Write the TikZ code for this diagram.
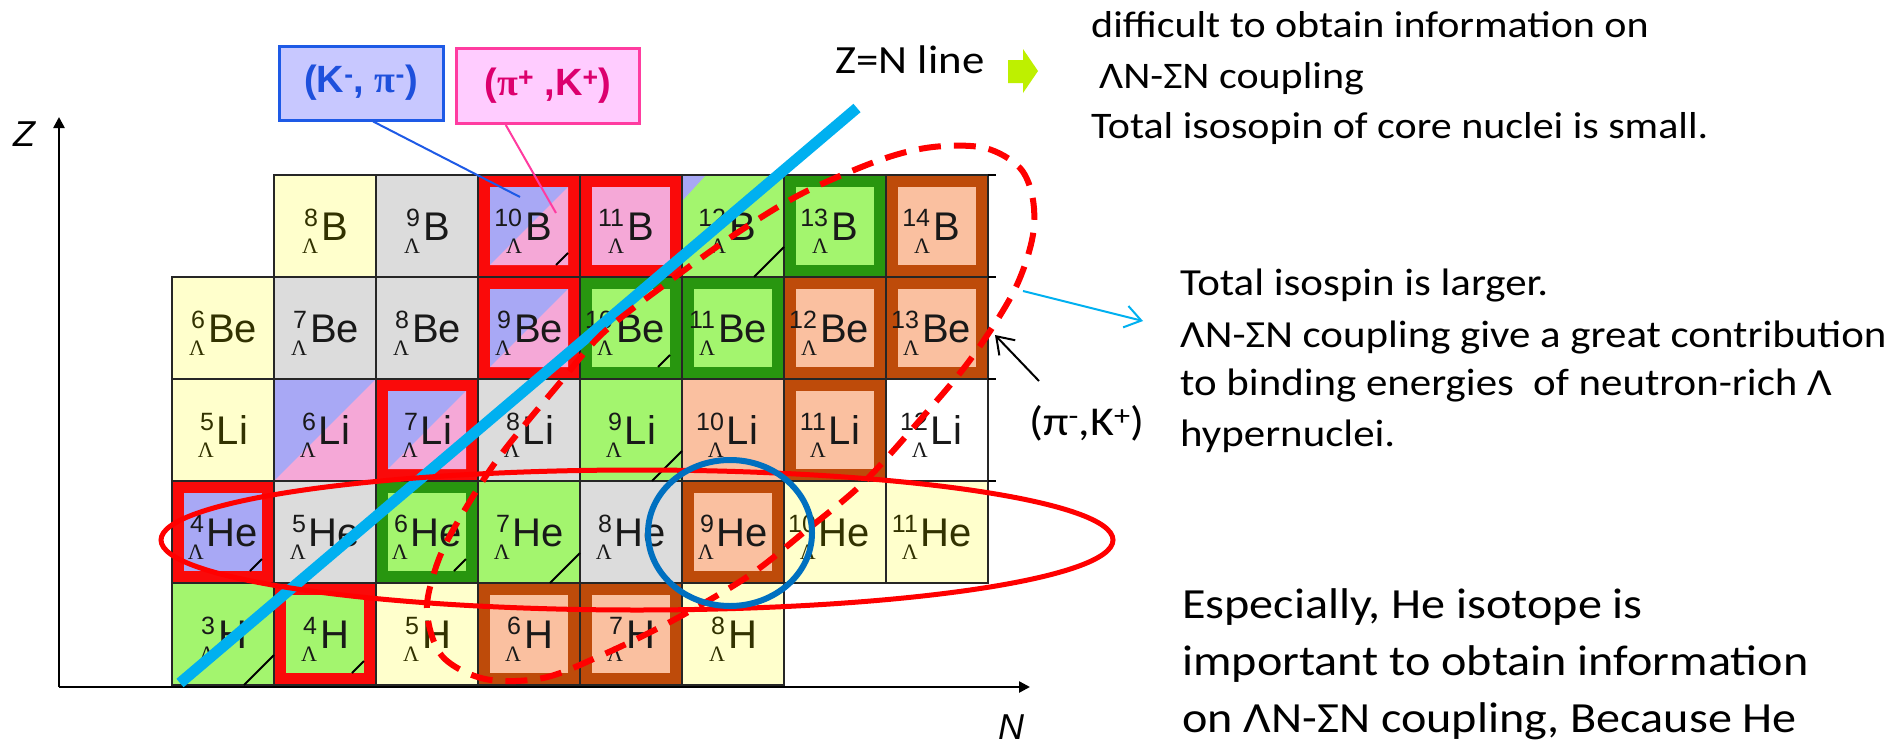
\documentclass[tikz,border=0pt]{standalone}
\usepackage{fontspec}
\setmainfont{Carlito}
\newfontfamily\arialf{Liberation Sans}
\newfontfamily\timesf{Liberation Serif}
\newfontfamily\txtf[FakeStretch=1.12]{Carlito}
\usetikzlibrary{arrows.meta,calc}
\definecolor{cY}{RGB}{255,255,204}
\definecolor{cG}{RGB}{220,220,220}
\definecolor{cLG}{RGB}{163,245,110}
\definecolor{cDG}{RGB}{40,150,15}
\definecolor{cR}{RGB}{250,10,10}
\definecolor{cBr}{RGB}{190,75,10}
\definecolor{cS}{RGB}{250,192,160}
\definecolor{cP}{RGB}{245,168,215}
\definecolor{cB}{RGB}{168,168,245}
\definecolor{cCyan}{RGB}{0,176,240}
\definecolor{cBlueC}{RGB}{0,112,192}
\definecolor{cLime}{RGB}{190,240,0}
\definecolor{cKbox}{RGB}{200,200,255}
\definecolor{cKedge}{RGB}{30,90,230}
\definecolor{cKtext}{RGB}{30,80,220}
\definecolor{cPbox}{RGB}{255,204,255}
\definecolor{cPedge}{RGB}{255,60,160}
\definecolor{cPtext}{RGB}{220,0,110}
\definecolor{cTxt}{RGB}{25,25,25}
\definecolor{cOl}{RGB}{50,50,0}
\newlength\isow
\newcommand\iso[2]{%
  \setbox0=\hbox{\arialf\fontsize{25}{25}\selectfont #1}%
  \setbox2=\hbox{\timesf\fontsize{22}{22}\selectfont Λ}%
  \isow=\wd0 \ifdim\wd2>\isow \isow=\wd2 \fi
  \hbox{\hbox to\isow{\hss\raise14pt\box0}\kern-\isow\hbox to\isow{\hss\lower13pt\box2}\kern3pt{\arialf\fontsize{40}{40}\selectfont #2}}}
\newcommand\Cplain[3]{\fill[#3] ({172+102*#1},{175+102*#2}) rectangle ++(102,102);}
\newcommand\Cframe[4]{\fill[#3] ({172+102*#1},{175+102*#2}) rectangle ++(102,102);
  \fill[#4] ({184+102*#1},{187+102*#2}) rectangle ({262+102*#1},{265+102*#2});}
\newcommand\Csplit[2]{\fill[cB] ({172+102*#1},{175+102*#2}) rectangle ++(102,102);
  \fill[cP] ({172+102*#1},{277+102*#2}) -- ({274+102*#1},{175+102*#2}) -- ({274+102*#1},{277+102*#2}) -- cycle;}
\newcommand\CsplitIn[2]{\fill[cP] ({184+102*#1},{265+102*#2}) -- ({262+102*#1},{187+102*#2}) -- ({262+102*#1},{265+102*#2}) -- cycle;}
\newcommand\Ctick[2]{\draw[tickline] ({244+102*#1},{277+102*#2}) -- ({274+102*#1},{247+102*#2});}
\newcommand\Ctin[2]{\draw[tickline] ({250+102*#1},{265+102*#2}) -- ({262+102*#1},{253+102*#2});}
\newcommand\Clab[5][cTxt]{\node[celltext,text=#1] (#5#4) at ({223+102*#2},{240+102*#3}) {\iso{#4}{#5}};}
\begin{document}
\begin{tikzpicture}[x=1pt,y=-1pt,
  cellb/.style={draw=black!85,line width=1.8pt},
  tickline/.style={draw=black,line width=2pt},
  celltext/.style={anchor=base,inner sep=0pt},
  txt/.style={anchor=base west,inner sep=0pt,font=\txtf\fontsize{37.5}{37.5}\selectfont},
  txtb/.style={anchor=base west,inner sep=0pt,font=\txtf\fontsize{38.3}{38.3}\selectfont},
  bigtxt/.style={anchor=base west,inner sep=0pt,font=\txtf\fontsize{43}{43}\selectfont},
  axis/.style={line width=2.5pt,-{Triangle[length=11pt,width=11pt]}},
  barb/.style={line width=2pt,-{Straight Barb[length=16pt,width=22pt,line width=2pt]}}]
\useasboundingbox (0,0) rectangle (1888,744);
\fill[white] (0,0) rectangle (1888,744);
% ---------- B row (r=0)
\Cplain{1}{0}{cY}
\Cplain{2}{0}{cG}
\Cframe{3}{0}{cR}{cB}\CsplitIn{3}{0}
\Cframe{4}{0}{cR}{cP}
\Cplain{5}{0}{cLG}\fill[cB] (682,175) -- (706,175) -- (682,201) -- cycle;
\Cframe{6}{0}{cDG}{cLG}
\Cframe{7}{0}{cBr}{cS}
% ---------- Be row (r=1)
\Cplain{0}{1}{cY}
\Cplain{1}{1}{cG}
\Cplain{2}{1}{cG}
\Cframe{3}{1}{cR}{cB}\CsplitIn{3}{1}
\Cframe{4}{1}{cDG}{cLG}
\Cframe{5}{1}{cDG}{cLG}
\Cframe{6}{1}{cBr}{cS}
\Cframe{7}{1}{cBr}{cS}
% ---------- Li row (r=2)
\Cplain{0}{2}{cY}
\Csplit{1}{2}
\Cframe{2}{2}{cR}{cB}\CsplitIn{2}{2}
\Cplain{3}{2}{cG}
\Cplain{4}{2}{cLG}
\Cplain{5}{2}{cS}
\Cframe{6}{2}{cBr}{cS}
\Cplain{7}{2}{white}
% ---------- He row (r=3)
\Cframe{0}{3}{cR}{cB}
\Cplain{1}{3}{cG}
\Cframe{2}{3}{cDG}{cLG}
\Cplain{3}{3}{cLG}
\Cplain{4}{3}{cG}
\Cframe{5}{3}{cBr}{cS}
\Cplain{6}{3}{cY}
\Cplain{7}{3}{cY}
% ---------- H row (r=4)
\Cplain{0}{4}{cLG}
\Cframe{1}{4}{cR}{cLG}
\Cplain{2}{4}{cY}
\Cframe{3}{4}{cBr}{cS}
\Cframe{4}{4}{cBr}{cS}
\Cplain{5}{4}{cY}
% borders
\foreach \c/\r in {1/0,2/0,3/0,4/0,5/0,6/0,7/0,0/1,1/1,2/1,3/1,4/1,5/1,6/1,7/1,0/2,1/2,2/2,3/2,4/2,5/2,6/2,7/2,0/3,1/3,2/3,3/3,4/3,5/3,6/3,7/3,0/4,1/4,2/4,3/4,4/4,5/4}
  {\draw[cellb] ({172+102*\c},{175+102*\r}) rectangle ++(102,102);}
% ticks
\Ctin{3}{0}\Ctick{5}{0}\Ctin{4}{1}\Ctick{4}{2}\Ctin{0}{3}\Ctin{2}{3}\Ctick{3}{3}\Ctick{0}{4}\Ctin{1}{4}
\foreach \y in {175,277,379,481} {\draw[line width=2pt] (988,\y) -- (996,\y);}
% labels
\Clab[cOl]{1}{0}{8}{B}\Clab{2}{0}{9}{B}\Clab{3}{0}{10}{B}\Clab{4}{0}{11}{B}\Clab{5}{0}{12}{B}\Clab{6}{0}{13}{B}\Clab{7}{0}{14}{B}
\Clab[cOl]{0}{1}{6}{Be}\Clab{1}{1}{7}{Be}\Clab{2}{1}{8}{Be}\Clab{3}{1}{9}{Be}\Clab{4}{1}{10}{Be}\Clab{5}{1}{11}{Be}\Clab{6}{1}{12}{Be}\Clab{7}{1}{13}{Be}
\Clab[cOl]{0}{2}{5}{Li}\Clab{1}{2}{6}{Li}\Clab{2}{2}{7}{Li}\Clab{3}{2}{8}{Li}\Clab{4}{2}{9}{Li}\Clab{5}{2}{10}{Li}\Clab{6}{2}{11}{Li}\Clab{7}{2}{12}{Li}
\Clab{0}{3}{4}{He}\Clab{1}{3}{5}{He}\Clab{2}{3}{6}{He}\Clab{3}{3}{7}{He}\Clab{4}{3}{8}{He}\Clab{5}{3}{9}{He}\Clab[cOl]{6}{3}{10}{He}\Clab[cOl]{7}{3}{11}{He}
\Clab{0}{4}{3}{H}\Clab{1}{4}{4}{H}\Clab[cOl]{2}{4}{5}{H}\Clab{3}{4}{6}{H}\Clab{4}{4}{7}{H}\Clab[cOl]{5}{4}{8}{H}
% axes
\coordinate (O) at (59,687);
\coordinate (Ztip) at (59,117);
\coordinate (Ntip) at (1030,687);
\draw[axis] (O) -- (Ztip);
\draw[axis] (O) -- (Ntip);
\node[inner sep=0pt,font=\arialf\itshape\fontsize{36}{36}\selectfont] (Zlab) at (24,134) {Z};
\node[inner sep=0pt,font=\arialf\itshape\fontsize{36}{36}\selectfont] (Nlab) at (1011,727) {N};
% reaction boxes
\node[draw=cKedge,fill=cKbox,line width=3pt,minimum width=164pt,minimum height=74pt,inner sep=0pt,text=cKtext,
  font=\arialf\bfseries\fontsize{38}{38}\selectfont] (kpi) at (361,83) {(K\textsuperscript{-}, {\timesf\bfseries π}\textsuperscript{-})};
\node[draw=cPedge,fill=cPbox,line width=3pt,minimum width=183pt,minimum height=75pt,inner sep=0pt,text=cPtext,
  font=\arialf\bfseries\fontsize{38}{38}\selectfont] (ppk) at (548,86) {({\timesf\bfseries π}\textsuperscript{+} ,K\textsuperscript{+})};
\coordinate (tA) at (520,197);
\coordinate (tB) at (556,213);
\draw[cKedge,line width=2pt] ($(kpi.south west)!0.573!(kpi.south east)$) -- (tA);
\draw[cPedge,line width=2pt] ($(ppk.south west)!0.273!(ppk.south east)$) -- (tB);
% Z=N line
\coordinate (znA) at (180,683);
\coordinate (znB) at (857,108);
\draw[cCyan,line width=11pt] (znA) -- (znB);
% red solid ellipse (He isotopes)
\draw[red,line width=5pt] (637,540) ellipse [x radius=476,y radius=70];
% red dashed loop (pi-,K+)
\draw[red,line width=6pt,dash pattern=on 22pt off 13pt] plot[smooth cycle,tension=0.55] coordinates {
 (427,612) (442,656) (485,679) (543,678) (600,656) (670,622) (747,577) (803,533) (863,483) (920,420)
 (970,360) (1013,293) (1032,240) (1033,200) (1020,168) (985,148) (933,147) (880,160) (803,193) (737,233)
 (667,283) (603,333) (558,385) (497,460) (453,530) (435,570)};
% blue circle around 9He
\draw[cBlueC,line width=6pt] (730,533) ellipse [x radius=82,y radius=73];
% Z=N label and lime arrow
\node[anchor=base,inner sep=0pt,font=\txtf\fontsize{40}{40}\selectfont] (znl) at (910,73) {Z=N line};
\fill[cLime] (1008,60) -- (1023,60) -- (1023,49) -- (1038,71) -- (1023,93) -- (1023,83) -- (1008,83) -- cycle;
% right texts
\node[txt] (t1a) at (1091,37) {difficult to obtain information on};
\node[txt] (t1b) at (1099,88) {ΛN-ΣN coupling};
\node[txt] (t1c) at (1091,138) {Total isosopin of core nuclei is small.};
\node[txtb] (t2a) at (1180,295) {Total isospin is larger.};
\node[txtb] (t2b) at (1180,347) {ΛN-ΣN coupling give a great contribution};
\node[txtb] (t2c) at (1180,395) {to binding energies\ \ of neutron-rich Λ};
\node[txtb] (t2d) at (1180,446) {hypernuclei.};
\node[bigtxt] (t3a) at (1182,618) {Especially, He isotope is};
\node[bigtxt] (t3b) at (1182,675) {important to obtain information};
\node[bigtxt] (t3c) at (1182,732) {on ΛN-ΣN coupling, Because He};
\node[anchor=base west,inner sep=0pt,font=\txtf\fontsize{41}{41}\selectfont] (pk) at (1029,435) {(π\textsuperscript{-},K\textsuperscript{+})};
% arrows
\coordinate (cyS) at (1023,291);
\coordinate (cyE) at (1143,321);
\draw[cCyan,barb] (cyS) -- (cyE);
\coordinate (bkS) at (1039,381);
\coordinate (bkE) at (995,335);
\draw[black,barb] (bkS) -- (bkE);
\end{tikzpicture}
\end{document}
